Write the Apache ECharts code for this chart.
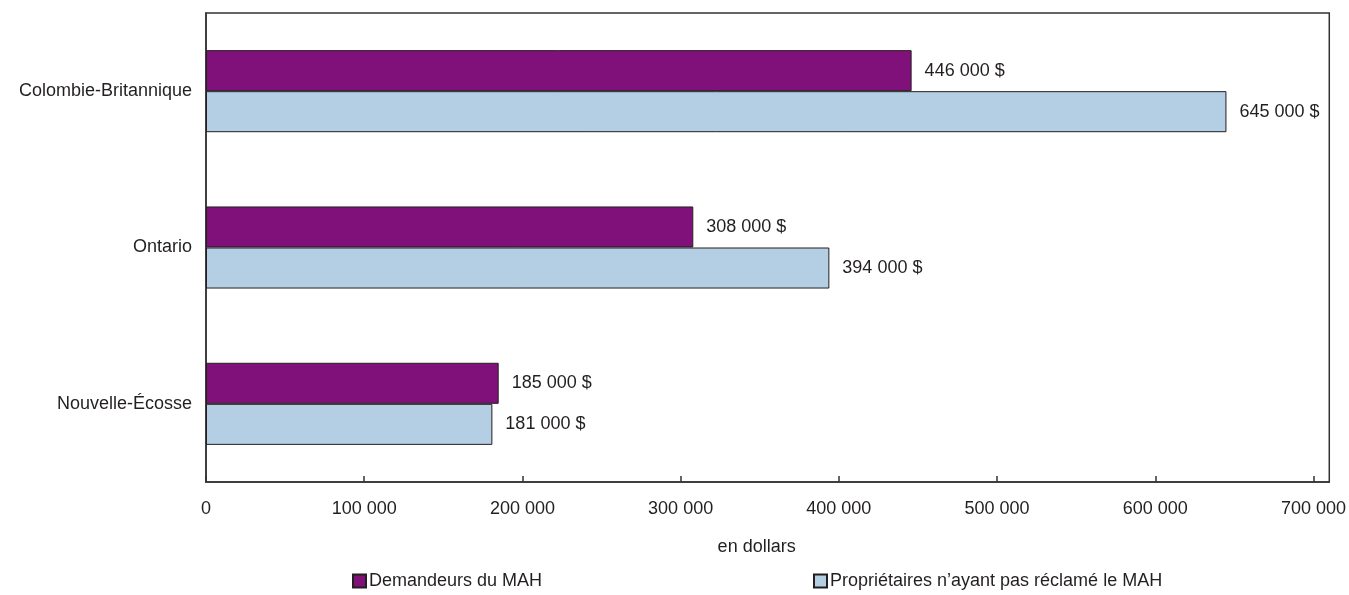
<!DOCTYPE html>
<html>
<head>
<meta charset="utf-8">
<script src="https://cdn.jsdelivr.net/npm/echarts@6/dist/echarts.min.js"></script>
<style>
  html, body { margin: 0; padding: 0; background: #fff; }
  #chart { width: 1349px; height: 595px; }
</style>
</head>
<body>
<div id="chart"></div>
<script>
// Provinces, top to bottom
const provinces = ['Colombie-Britannique', 'Ontario', 'Nouvelle-Écosse'];
// Median values in dollars
const demandeurs = [446000, 308000, 185000];
const proprietaires = [645000, 394000, 181000];
const seriesNames = ['Demandeurs du MAH', 'Propriétaires n\u2019ayant pas réclamé le MAH'];
const tickValues = [0, 100000, 200000, 300000, 400000, 500000, 600000, 700000];

const FONT = '"Liberation Sans Narrow", "Arial Narrow", "Liberation Sans", sans-serif';
const TEXT = '#231f20';
const LINE = '#333333';

const fmt = v => String(v).replace(/\B(?=(\d{3})+(?!\d))/g, ' ');

const chart = echarts.init(document.getElementById('chart'), null, { renderer: 'canvas' });

const labelOpt = {
  show: true,
  position: 'right',
  distance: 13,
  color: TEXT,
  fontFamily: FONT,
  fontSize: 18,
  formatter: p => fmt(p.value) + ' $'
};

const legendBase = {
  top: 572,
  padding: 0,
  itemWidth: 13, itemHeight: 13, itemGap: 6,
  icon: 'rect',
  textStyle: { fontFamily: FONT, fontSize: 18, color: TEXT, padding: [0, 0, 0, -2] }
};

chart.setOption({
  animation: false,
  backgroundColor: '#ffffff',
  textStyle: { fontFamily: FONT, color: TEXT },
  grid: {
    left: 206, right: 18, top: 13, bottom: 113,
    show: true, borderColor: LINE, borderWidth: 1.5, backgroundColor: 'transparent'
  },
  legend: [
    Object.assign({ data: [seriesNames[0]], left: 352 }, legendBase),
    Object.assign({ data: [seriesNames[1]], left: 813 }, legendBase)
  ],
  xAxis: {
    type: 'value',
    min: 0,
    max: 710000,
    interval: 100000,
    name: 'en dollars',
    nameLocation: 'middle',
    nameGap: 56,
    nameTextStyle: { fontFamily: FONT, fontSize: 18, color: TEXT, padding: [0, 22, 0, 0] },
    axisLine: { show: true, lineStyle: { color: LINE, width: 1.5 } },
    axisTick: { show: true, inside: true, length: 6, lineStyle: { color: LINE, width: 1.5 }, customValues: tickValues },
    axisLabel: { fontFamily: FONT, fontSize: 18, color: TEXT, margin: 18, customValues: tickValues, formatter: v => fmt(v) },
    splitLine: { show: false }
  },
  yAxis: {
    type: 'category',
    data: provinces,
    inverse: true,
    axisLine: { show: true, lineStyle: { color: LINE, width: 1.5 } },
    axisTick: { show: false },
    axisLabel: { fontFamily: FONT, fontSize: 18, color: TEXT, margin: 14 }
  },
  series: [
    {
      name: seriesNames[0],
      type: 'bar',
      data: demandeurs,
      barGap: '0%',
      barCategoryGap: '47.5%',
      itemStyle: { color: '#80117a', borderColor: '#231f20', borderWidth: 1 },
      label: labelOpt
    },
    {
      name: seriesNames[1],
      type: 'bar',
      data: proprietaires,
      barGap: '0%',
      barCategoryGap: '47.5%',
      itemStyle: { color: '#b4cee3', borderColor: '#231f20', borderWidth: 1 },
      label: labelOpt
    }
  ]
});
</script>
</body>
</html>
